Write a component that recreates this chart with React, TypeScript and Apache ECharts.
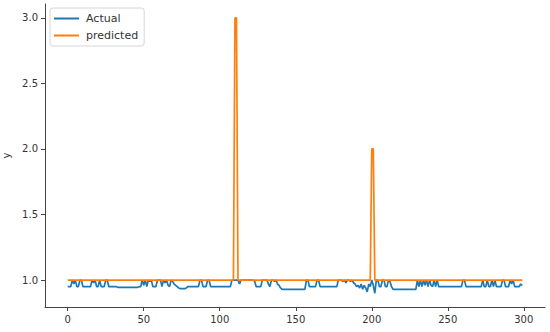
import React, { useEffect, useRef } from "react";
import * as echarts from "echarts";

const xTicks = [0, 50, 100, 150, 200, 250, 300];
const yTicks = [1.0, 1.5, 2.0, 2.5, 3.0];

// Actual values, index 0..299 (rows of 10)
const actual = [
  0.95, 0.95, 0.95, 1.0, 0.97, 1.0, 0.95, 0.95, 1.0, 1.0,
  0.95, 0.95, 0.95, 0.95, 0.95, 0.95, 1.0, 0.98, 1.0, 0.95,
  0.95, 1.0, 0.95, 0.95, 0.95, 1.0, 1.0, 0.95, 0.95, 0.95,
  0.95, 0.95, 0.95, 0.945, 0.945, 0.945, 0.945, 0.945, 0.945, 0.945,
  0.945, 0.945, 0.945, 0.945, 0.945, 0.945, 0.945, 0.95, 0.95, 1.0,
  0.96, 1.0, 0.95, 1.0, 0.99, 1.0, 0.95, 0.95, 0.95, 1.0,
  1.0, 1.0, 0.95, 1.0, 0.98, 1.0, 0.96, 0.95, 1.0, 0.99,
  0.97, 0.96, 0.95, 0.94, 0.935, 0.935, 0.935, 0.935, 0.94, 0.95,
  0.95, 0.95, 0.95, 0.95, 0.95, 0.95, 0.95, 1.0, 1.0, 0.95,
  0.95, 0.95, 1.0, 1.0, 0.95, 0.95, 0.95, 0.95, 0.95, 0.95,
  0.95, 0.95, 0.95, 0.95, 0.95, 0.95, 0.95, 0.95, 1.0, 1.0,
  1.0, 1.0, 1.0, 0.97, 1.0, 1.0, 1.0, 1.0, 1.0, 1.0,
  1.0, 1.0, 1.0, 0.99, 0.95, 0.95, 0.95, 0.95, 1.0, 1.0,
  1.0, 1.0, 0.97, 0.95, 1.0, 1.0, 0.99, 1.0, 0.97, 0.96,
  0.94, 0.93, 0.93, 0.93, 0.93, 0.93, 0.93, 0.93, 0.93, 0.93,
  0.93, 0.93, 0.93, 0.93, 0.93, 0.93, 0.93, 1.0, 1.0, 0.95,
  0.95, 0.95, 0.95, 0.95, 1.0, 1.0, 0.95, 0.95, 0.95, 0.95,
  0.95, 0.95, 0.95, 0.95, 0.95, 0.95, 0.95, 0.95, 1.0, 1.0,
  1.0, 0.99, 1.0, 0.98, 1.0, 1.0, 0.99, 1.0, 0.98, 0.97,
  0.95, 0.96, 0.94, 0.97, 0.93, 0.96, 0.94, 0.91, 0.97, 0.95,
  1.0, 0.96, 0.9, 1.0, 1.0, 0.95, 0.95, 1.0, 1.0, 0.95,
  0.95, 1.0, 0.99, 0.95, 0.93, 0.93, 0.93, 0.93, 0.93, 0.93,
  0.93, 0.93, 0.93, 0.93, 0.93, 0.93, 0.93, 0.93, 0.93, 0.93,
  1.0, 0.95, 1.0, 0.95, 1.0, 0.96, 1.0, 0.95, 1.0, 0.96,
  0.95, 1.0, 0.95, 1.0, 0.95, 0.95, 0.95, 0.95, 0.95, 0.95,
  0.95, 0.95, 0.95, 0.95, 0.95, 0.95, 0.95, 0.95, 0.95, 0.95,
  1.0, 1.0, 0.95, 0.95, 0.95, 0.95, 0.95, 0.95, 0.95, 0.95,
  0.95, 0.95, 0.95, 1.0, 0.95, 0.95, 1.0, 0.95, 0.95, 1.0,
  0.95, 1.0, 0.95, 0.95, 0.95, 0.95, 1.0, 1.0, 0.95, 0.95,
  0.95, 1.0, 0.97, 1.0, 0.95, 0.95, 0.95, 0.95, 0.97, 0.96,
];

// Predicted values, index 0..299 (rows of 10)
const predicted = [
  1, 1, 1, 1, 1, 1, 1, 1, 1, 1,
  1, 1, 1, 1, 1, 1, 1, 1, 1, 1,
  1, 1, 1, 1, 1, 1, 1, 1, 1, 1,
  1, 1, 1, 1, 1, 1, 1, 1, 1, 1,
  1, 1, 1, 1, 1, 1, 1, 1, 1, 1,
  1, 1, 1, 1, 1, 1, 1, 1, 1, 1,
  1, 1, 1, 1, 1, 1, 1, 1, 1, 1,
  1, 1, 1, 1, 1, 1, 1, 1, 1, 1,
  1, 1, 1, 1, 1, 1, 1, 1, 1, 1,
  1, 1, 1, 1, 1, 1, 1, 1, 1, 1,
  1, 1, 1, 1, 1, 1, 1, 1, 1, 1,
  3, 3, 1, 1, 1, 1, 1, 1, 1, 1,
  1, 1, 1, 1, 1, 1, 1, 1, 1, 1,
  1, 1, 1, 1, 1, 1, 1, 1, 1, 1,
  1, 1, 1, 1, 1, 1, 1, 1, 1, 1,
  1, 1, 1, 1, 1, 1, 1, 1, 1, 1,
  1, 1, 1, 1, 1, 1, 1, 1, 1, 1,
  1, 1, 1, 1, 1, 1, 1, 1, 1, 1,
  1, 1, 1, 1, 1, 1, 1, 1, 1, 1,
  1, 1, 1, 1, 1, 1, 1, 1, 1, 1,
  2, 2, 1, 1, 1, 1, 1, 1, 1, 1,
  1, 1, 1, 1, 1, 1, 1, 1, 1, 1,
  1, 1, 1, 1, 1, 1, 1, 1, 1, 1,
  1, 1, 1, 1, 1, 1, 1, 1, 1, 1,
  1, 1, 1, 1, 1, 1, 1, 1, 1, 1,
  1, 1, 1, 1, 1, 1, 1, 1, 1, 1,
  1, 1, 1, 1, 1, 1, 1, 1, 1, 1,
  1, 1, 1, 1, 1, 1, 1, 1, 1, 1,
  1, 1, 1, 1, 1, 1, 1, 1, 1, 1,
  1, 1, 1, 1, 1, 1, 1, 1, 1, 1,
];

const BLUE = "#1f77b4";
const ORANGE = "#ff7f0e";
const AXIS = "#444";
const FONT = "DejaVu Sans";

export default function App() {
  const ref = useRef<HTMLDivElement>(null);
  useEffect(() => {
    document.body.style.margin = "0";
    const chart = echarts.init(ref.current!, null, { renderer: "svg" });
    const toPairs = (arr: number[]) => arr.map((v, i) => [i, v]);
    chart.setOption({
      animation: false,
      backgroundColor: "#fff",
      grid: { left: 45, right: 5, top: 4, bottom: 25, outerBoundsMode: "none", containLabel: false },
      legend: {
        left: 50,
        top: 8,
        orient: "vertical",
        icon: "rect",
        itemWidth: 25,
        itemHeight: 2,
        itemGap: 6,
        padding: [5, 6, 5, 4],
        borderColor: "#d6d6d6",
        borderWidth: 1,
        borderRadius: 3,
        backgroundColor: "rgba(255,255,255,0.85)",
        textStyle: { fontFamily: FONT, fontSize: 11, color: "#333", padding: [0, 0, 0, 2] },
        data: ["Actual", "predicted"],
      },
      xAxis: {
        type: "value",
        min: -14.95,
        max: 313.95,
        splitLine: { show: false },
        axisLine: { show: true, onZero: false, lineStyle: { color: AXIS, width: 1 } },
        axisTick: { show: true, length: 4, lineStyle: { color: AXIS }, customValues: xTicks },
        axisLabel: {
          fontFamily: FONT,
          fontSize: 10,
          color: "#333",
          margin: 7,
          customValues: xTicks,
          showMinLabel: true,
          showMaxLabel: true,
        },
      },
      yAxis: {
        type: "value",
        min: 0.795,
        max: 3.105,
        name: "y",
        nameLocation: "middle",
        nameGap: 33,
        nameRotate: 90,
        nameTextStyle: { fontFamily: FONT, fontSize: 10, color: "#333" },
        splitLine: { show: false },
        axisLine: { show: true, onZero: false, lineStyle: { color: AXIS, width: 1 } },
        axisTick: { show: true, length: 4, lineStyle: { color: AXIS }, customValues: yTicks },
        axisLabel: {
          fontFamily: FONT,
          fontSize: 10,
          color: "#333",
          margin: 7,
          customValues: yTicks,
          formatter: (v: number) => v.toFixed(1),
        },
      },
      series: [
        {
          name: "Actual",
          type: "line",
          data: toPairs(actual),
          showSymbol: false,
          symbol: "none",
          lineStyle: { color: BLUE, width: 1.7 },
          itemStyle: { color: BLUE },
        },
        {
          name: "predicted",
          type: "line",
          data: toPairs(predicted),
          showSymbol: false,
          symbol: "none",
          lineStyle: { color: ORANGE, width: 1.7 },
          itemStyle: { color: ORANGE },
        },
      ],
    });
    return () => chart.dispose();
  }, []);
  return (
    <div
      ref={ref}
      style={{ position: "absolute", left: 0, top: 0, width: 550, height: 332 }}
    />
  );
}
